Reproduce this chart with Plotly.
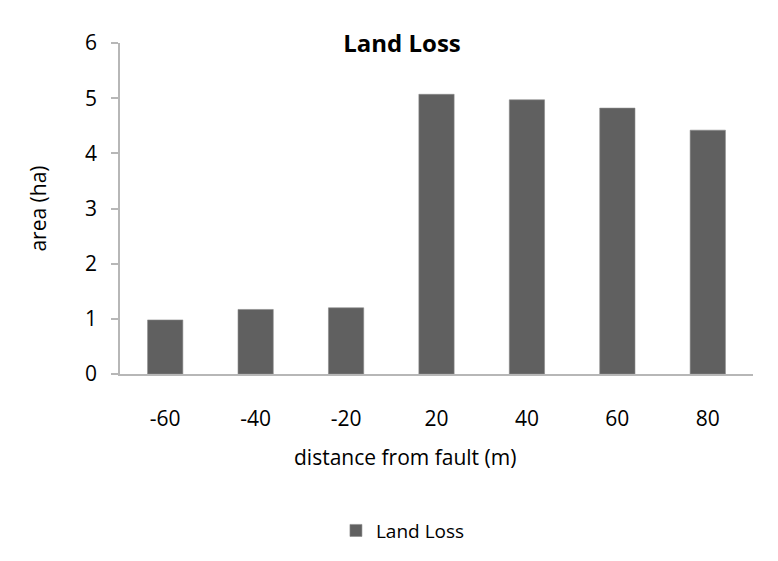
import plotly.graph_objects as go

# Land loss by distance from the fault
distance = ["-60", "-40", "-20", "20", "40", "60", "80"]
area_ha = [0.98, 1.17, 1.20, 5.07, 4.97, 4.82, 4.42]
y_ticks = [0, 1, 2, 3, 4, 5, 6]

FONT = "Open Sans"
AXIS_GRAY = "#b7b7b7"
BAR_COLOR = "#606060"

fig = go.Figure(
    go.Bar(
        x=distance,
        y=area_ha,
        name="Land Loss",
        marker=dict(color=BAR_COLOR, line=dict(color="#8a8a8a", width=0.6)),
        showlegend=True,
    )
)

fig.update_layout(
    width=778,
    height=561,
    margin=dict(l=120, r=25, t=43, b=182),
    paper_bgcolor="white",
    plot_bgcolor="white",
    bargap=0.61,
    font=dict(family=FONT, size=21, color="#000000"),
    title=dict(
        text="<b>Land Loss</b>",
        x=402 / 778,
        xref="container",
        xanchor="center",
        y=1 - 44 / 561,
        yref="container",
        yanchor="middle",
        font=dict(family=FONT, size=24, color="#000000"),
    ),
    showlegend=True,
    legend=dict(
        orientation="h",
        x=0.447,
        xanchor="center",
        y=-0.473,
        yanchor="middle",
        font=dict(family=FONT, size=19),
        itemwidth=30,
    ),
    annotations=[
        dict(
            text="distance from fault (m)",
            xref="paper",
            yref="paper",
            x=0.45,
            y=-0.25,
            xanchor="center",
            yanchor="middle",
            showarrow=False,
            font=dict(family=FONT, size=21, color="#000000"),
        )
    ],
)

fig.update_xaxes(
    type="category",
    showline=True,
    linecolor=AXIS_GRAY,
    linewidth=1.5,
    showgrid=False,
    ticks="",
    ticklabelstandoff=25,
    tickfont=dict(family=FONT, size=21),
)

fig.update_yaxes(
    range=[0, 6],
    tickvals=y_ticks,
    showline=True,
    linecolor=AXIS_GRAY,
    linewidth=1.5,
    showgrid=False,
    zeroline=False,
    ticks="outside",
    ticklen=7,
    tickcolor=AXIS_GRAY,
    tickwidth=1.5,
    ticklabelstandoff=10,
    tickfont=dict(family=FONT, size=21),
    title=dict(text="area (ha)", standoff=33, font=dict(family=FONT, size=21)),
)

fig.write_html("out.html")
